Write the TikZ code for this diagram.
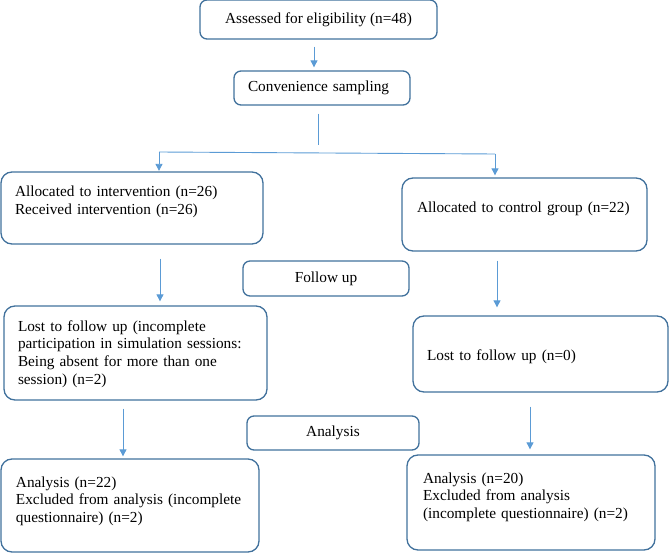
\documentclass[tikz,border=0pt]{standalone}
\usepackage{fontspec}
\setmainfont{Liberation Serif}
\usetikzlibrary{arrows.meta}

\definecolor{bordbleu}{RGB}{65,113,156}
\definecolor{flechebleu}{RGB}{91,155,213}

\tikzset{
  cadre/.style={draw=bordbleu, line width=1.3pt, rounded corners=11pt, inner xsep=14pt, inner ysep=0pt, align=left},
  petit/.style={cadre, rounded corners=7pt, align=center},
  ligne/.style={text height=0pt, text depth=#1},
  trait/.style={draw=flechebleu, line width=0.9pt},
  fleche/.style={trait, -{Triangle[width=7pt,length=7pt]}}
}

\begin{document}
\begin{tikzpicture}[x=1pt,y=-1pt,font=\fontsize{15.3}{17.7}\selectfont]

\useasboundingbox (0,0) rectangle (669,553);

%%%%%%%%%%%%%%%%%%%%%%%%
% Cadres du haut
%%%%%%%%%%%%%%%%%%%%%%%%
\node[petit, minimum width=237, minimum height=39] (eligib) at (318.5,19.5) {Assessed for eligibility (n=48)};
\node[cadre, rounded corners=7pt, minimum height=34, text width=148] (conv) at (322,88) {Convenience sampling};

% point de separation
\coordinate (sep) at (318,145);
\coordinate (gauche) at (159,152);
\coordinate (droite) at (495,154);

%%%%%%%%%%%%%%%%%%%%%%%%
% Les deux groupes
%%%%%%%%%%%%%%%%%%%%%%%%
\node[cadre, minimum height=72, text width=234, ligne=22pt] (interv) at (132,208)
  {Allocated to intervention (n=26)\\Received intervention (n=26)};
\node[cadre, inner xsep=15pt, minimum height=73, text width=215, ligne=3pt] (controle) at (524.5,214.5)
  {Allocated to control group (n=22)};

\node[petit, minimum width=166, minimum height=35] (suivi) at (326,278.5) {Follow up};

\node[cadre, minimum height=94, text width=235, ligne=44pt] (perdusI) at (135.5,353)
  {Lost to follow up (incomplete\\participation in simulation sessions:\\Being absent for more than one\\session) (n=2)};
\node[cadre, minimum height=76, text width=227, text height=12pt, text depth=0pt] (perdusC) at (540.5,354)
  {Lost to follow up (n=0)};

\node[petit, minimum width=172, minimum height=34] (analyse) at (333,433) {Analysis};

\node[cadre, inner xsep=15pt, minimum height=93, text width=228, ligne=37pt] (analyseI) at (130,505.5)
  {Analysis (n=22)\\Excluded from analysis (incomplete\\questionnaire) (n=2)};
\node[cadre, inner xsep=16pt, minimum height=95, text width=216, ligne=39pt] (analyseC) at (531,502.5)
  {Analysis (n=20)\\Excluded from analysis\\(incomplete questionnaire) (n=2)};

%%%%%%%%%%%%%%%%%%%%%%%%
% Fleches
%%%%%%%%%%%%%%%%%%%%%%%%
\draw[fleche, shorten <=7pt, shorten >=3pt] ([xshift=-4.5pt]eligib.south) -- ([xshift=-8pt]conv.north);
\draw[trait, shorten <=8pt] ([xshift=-4pt]conv.south) -- (sep);
\draw[trait] (gauche) -- (droite);
\draw[fleche, shorten >=0.5pt] (gauche) -- (gauche |- interv.north);
\draw[fleche, shorten >=2pt] (droite) -- (droite |- controle.north);

\draw[fleche, shorten <=14pt, shorten >=4pt] ([xshift=28pt]interv.south) -- ([xshift=24.5pt]perdusI.north);
\draw[fleche, shorten <=9pt, shorten >=8pt] ([xshift=-27.5pt]controle.south) -- ([xshift=-43.5pt]perdusC.north);
\draw[fleche, shorten <=8pt, shorten >=2pt] ([xshift=-12.5pt]perdusI.south) -- ([xshift=-7pt]analyseI.north);
\draw[fleche, shorten <=14pt, shorten >=5pt] ([xshift=-10.5pt]perdusC.south) -- ([xshift=-1pt]analyseC.north);

\end{tikzpicture}
\end{document}
